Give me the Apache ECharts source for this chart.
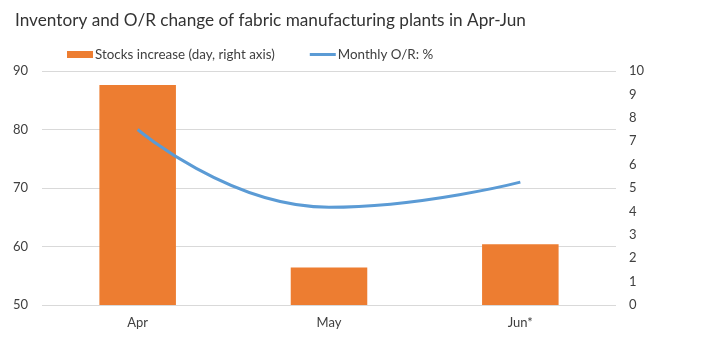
<!DOCTYPE html>
<html><head><meta charset="utf-8">
<script src="https://cdn.jsdelivr.net/npm/echarts@6/dist/echarts.min.js"></script>
<style>html,body{margin:0;padding:0;background:#fff}#c{width:728px;height:359px}</style>
</head><body><div id="c"></div>
<script>
var categories = ['Apr', 'May', 'Jun*'];
var stocksIncrease = [9.4, 1.6, 2.6];
var monthlyOR = [80, 66.7, 71];
var leftTicks = {min: 50, max: 90, interval: 10};
var rightTicks = {min: 0, max: 10, interval: 1};

var chart = echarts.init(document.getElementById('c'));
var font = 'Lato';
chart.setOption({
  animation: false,
  title: {text: 'Inventory and O/R change of fabric manufacturing plants in Apr-Jun', left: 10, top: 7,
    textStyle: {fontFamily: font, fontWeight: 'normal', fontSize: 17.2, color: '#333'}},
  legend: {top: 43, left: 62, itemGap: 35, itemWidth: 26, itemHeight: 7,
    textStyle: {fontFamily: font, fontSize: 13.4, color: '#404040', padding: [0,0,0,-3]},
    data: [{name: 'Stocks increase (day, right axis)', icon: 'rect'},
           {name: 'Monthly O/R: %', icon: 'path://M0,0L26,0L26,3L0,3Z'}]},
  grid: {left: 42, right: 112, top: 71, bottom: 54, containLabel: false},
  xAxis: {type: 'category', data: categories,
    axisLine: {show: false}, axisTick: {show: false},
    axisLabel: {fontFamily: font, fontSize: 13, color: '#404040', margin: 11}},
  yAxis: [
    {type: 'value', min: leftTicks.min, max: leftTicks.max, interval: leftTicks.interval,
      axisLabel: {fontFamily: font, fontSize: 13, color: '#404040', margin: 14},
      splitLine: {lineStyle: {color: '#d9d9d9'}}, axisLine: {show: false}, axisTick: {show: false}},
    {type: 'value', min: rightTicks.min, max: rightTicks.max, interval: rightTicks.interval,
      axisLabel: {fontFamily: font, fontSize: 13, color: '#404040', margin: 13},
      splitLine: {show: false}, axisLine: {show: false}, axisTick: {show: false}}
  ],
  series: [
    {name: 'Stocks increase (day, right axis)', type: 'bar', yAxisIndex: 1, data: stocksIncrease,
      barWidth: '40%', itemStyle: {color: '#ed7d31'}},
    {name: 'Monthly O/R: %', type: 'line', yAxisIndex: 0, data: monthlyOR, smooth: 0.5,
      showSymbol: false, symbol: 'none', lineStyle: {color: '#5b9bd5', width: 3}, itemStyle: {color: '#5b9bd5'}}
  ]
});
</script></body></html>
